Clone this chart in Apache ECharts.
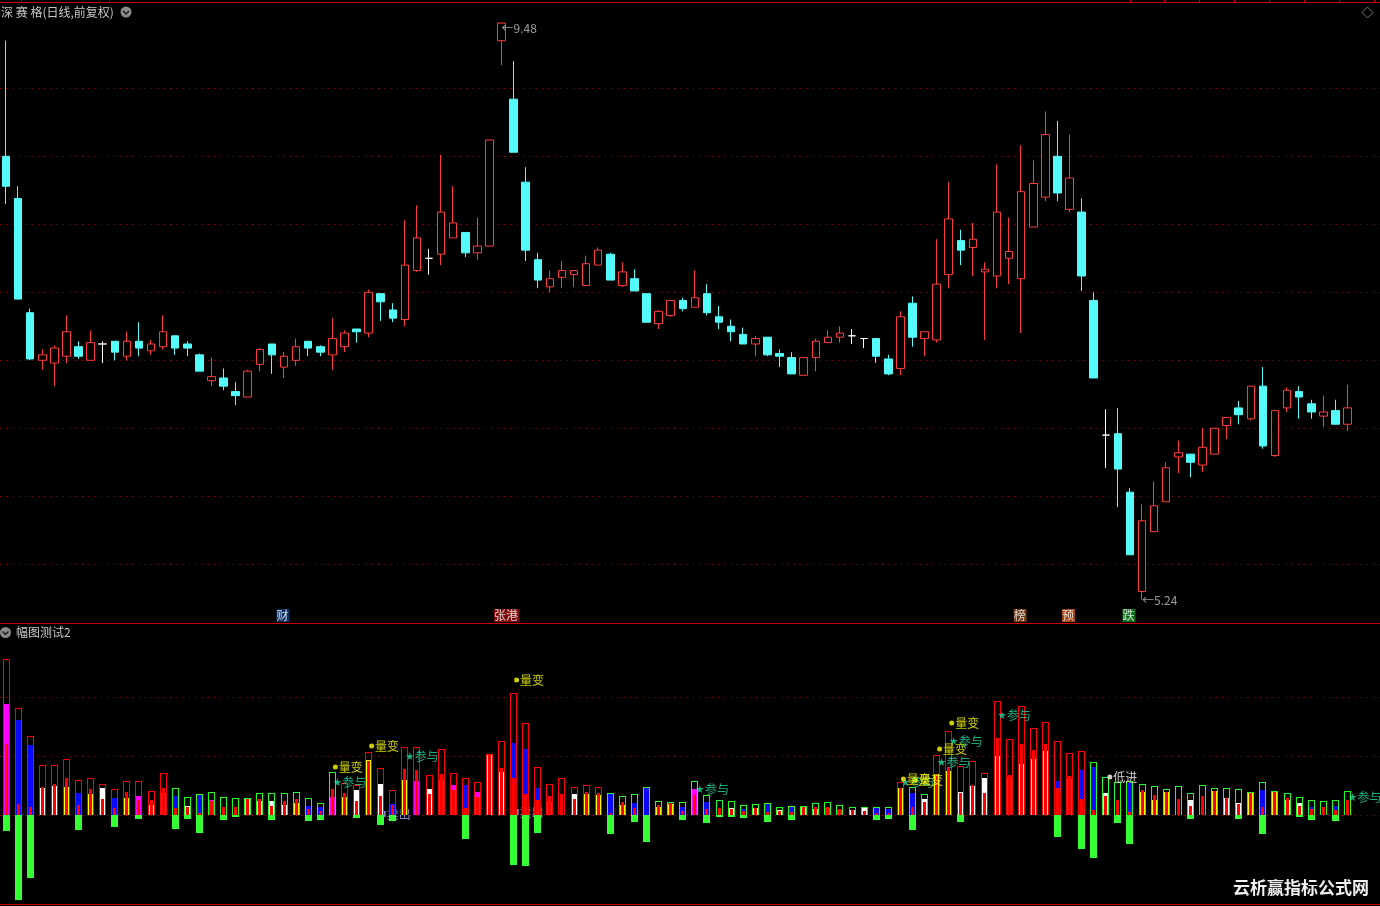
<!DOCTYPE html>
<html>
<head>
<meta charset="utf-8">
<script src="https://cdn.jsdelivr.net/npm/echarts@6.0.0/dist/echarts.min.js"></script>
<style>
html,body{margin:0;padding:0;background:#000;overflow:hidden;}
#c{width:1380px;height:906px;}
</style>
</head>
<body>
<div id="c"></div>
<script>
// ---------------- DATA ----------------
const opens  = [8.50,8.19,7.35,7.00,6.98,7.03,7.10,7.00,7.12,7.14, 7.03,7.14,7.07,7.10,7.18,7.12,7.04,6.85,6.87,6.77,
                6.73,6.97,7.12,6.95,7.00,7.14,7.10,7.04,7.10,7.23, 7.20,7.49,7.37,7.30,7.66,7.75,7.78,7.90,7.94,7.79,
                7.84,9.35,8.92,8.31,7.74,7.54,7.61,7.63,7.55,7.70, 7.78,7.55,7.60,7.49,7.27,7.33,7.44,7.39,7.49,7.32,
                7.25,7.19,7.12,7.17,7.05,7.02,6.89,7.02,7.13,7.17, 7.18,7.16,7.16,7.01,6.94,7.42,7.16,7.15,7.63,7.88,
                7.83,7.65,7.62,7.75,7.60,7.98,8.20,8.50,8.11,8.09, 7.44,6.45,6.46,6.03,5.30,5.74,5.96,6.29,6.31,6.23,
                6.31,6.52,6.65,6.57,6.81,6.30,6.65,6.77,6.68,6.59, 6.63,6.53];
const closes = [8.28,7.45,7.01,7.04,7.09,7.21,7.03,7.13,7.12,7.06, 7.14,7.09,7.12,7.21,7.09,7.09,6.92,6.88,6.81,6.74,
                6.92,7.08,7.04,7.03,7.10,7.09,7.06,7.16,7.20,7.21, 7.50,7.43,7.31,7.70,7.90,7.75,8.09,8.01,7.79,7.84,
                8.62,9.48,8.53,7.81,7.59,7.60,7.66,7.66,7.71,7.81, 7.59,7.65,7.51,7.28,7.36,7.44,7.38,7.46,7.35,7.28,
                7.21,7.12,7.16,7.04,7.03,6.90,7.02,7.14,7.17,7.20, 7.18,7.16,7.03,6.90,7.32,7.17,7.21,7.56,8.04,7.81,
                7.89,7.67,8.09,7.80,8.24,8.30,8.66,8.23,8.34,7.62, 6.87,6.45,6.20,5.57,5.82,5.93,6.21,6.32,6.25,6.36,
                6.50,6.58,6.60,6.81,6.37,6.63,6.78,6.73,6.62,6.62, 6.53,6.65];
const lows   = [8.15,7.45,7.00,6.93,6.81,6.98,7.01,7.00,6.98,7.00, 7.00,7.03,7.04,7.08,7.04,7.03,6.92,6.81,6.78,6.67,
                6.73,6.92,6.90,6.87,6.96,7.03,7.03,6.93,7.06,7.13, 7.17,7.29,7.28,7.25,7.65,7.63,7.70,7.90,7.76,7.74,
                7.84,9.17,8.53,7.73,7.53,7.50,7.53,7.54,7.55,7.70, 7.59,7.54,7.51,7.28,7.23,7.32,7.36,7.39,7.33,7.23,
                7.14,7.12,7.03,7.03,6.95,6.90,6.89,6.92,7.13,7.13, 7.12,7.09,6.98,6.89,6.89,7.10,7.03,7.13,7.53,7.70,
                7.62,7.15,7.53,7.56,7.20,7.98,8.17,8.17,8.09,7.51, 6.87,6.21,5.92,5.57,5.24,5.74,5.96,6.17,6.14,6.18,
                6.31,6.42,6.53,6.56,6.35,6.29,6.62,6.57,6.57,6.51, 6.53,6.48];
const highs  = [9.35,8.28,7.38,7.08,7.11,7.33,7.14,7.22,7.14,7.14, 7.21,7.28,7.15,7.33,7.18,7.14,7.05,7.02,6.94,6.84,
                6.93,7.09,7.12,7.06,7.16,7.14,7.11,7.31,7.22,7.23, 7.52,7.49,7.42,8.03,8.14,7.82,8.51,8.28,7.94,8.05,
                8.62,9.48,9.20,8.42,7.79,7.66,7.73,7.66,7.77,7.83, 7.79,7.72,7.67,7.49,7.37,7.44,7.46,7.66,7.56,7.40,
                7.30,7.24,7.18,7.17,7.08,7.06,7.02,7.16,7.22,7.25, 7.23,7.16,7.16,7.04,7.36,7.47,7.21,7.89,8.31,7.96,
                8.01,7.72,8.44,8.05,8.58,8.47,8.83,8.76,8.66,8.19, 7.50,6.64,6.65,6.06,5.94,6.11,6.25,6.41,6.31,6.50,
                6.50,6.58,6.70,6.81,6.95,6.63,6.80,6.81,6.71,6.74, 6.71,6.82];
const priceLevels = [5.5,6.0,6.5,7.0,7.5,8.0,8.5,9.0];

// lower pane indicator
const outlineTop = [131.9,90.1,66.4,41.8,41.8,46.9,29.1,30.8,25.7,21.5, 28.3,28.3,19.8,35.0,22.3,14.7,17.2,18.9,14.7,13.8,
                    13.8,18.1,18.1,18.1,18.9,13.8,9.6,35.9,26.6,24.9, 52.8,39.3,20.6,57.1,57.1,33.3,55.4,35.0,30.8,27.4,
                    51.4,62.2,102.8,77.4,40.1,25.7,30.8,23.2,24.9,23.2, 18.1,15.5,17.2,23.2,11.3,10.5,10.5,28.3,16.4,12.1,
                    11.3,7.9,8.8,9.6,6.2,7.1,7.3,9.6,10.5,7.9, 6.2,6.5,6.2,6.2,27.4,23.2,17.2,50.3,70.6,41.0,
                    45.2,35.0,96.1,63.8,91.8,73.2,78.3,62.2,52.0,53.7, 44.4,31.6,27.7,28.3,25.7,24.0,21.5,24.0,18.1,24.9,
                    22.3,22.3,21.5,18.9,27.4,19.8,18.1,14.7,12.1,11.3, 12.1,19.8];
const outlineKind = ['R','R','R','R','R','R','R','R','R','R', 'R','R','R','R','G','G','G','G','G','G',
                     'G','G','G','G','G','G','G','G','R','R', 'R','R','R','R','R','R','R','R','R','R',
                     'R','R','R','R','R','R','R','R','R','R', 'G','G','G','G','G','G','G','G','G','G',
                     'G','G','G','G','G','G','G','G','G','G', 'G','G','G','G','R','G','G','R','R','R',
                     'R','R','R','R','R','R','R','R','R','R', 'G','G','G','G','G','G','G','G','G','G',
                     'G','G','G','G','G','G','G','G','G','G', 'G','G'];
const fillTop = [93.8,80.2,58.8,22.9,24.6,23.7,18.4,17.5,22.6,14.1, 14.1,15.8,8.2,18.4,15.8,7.3,16.4,12.4,0,0,
                 13.3,11.6,11.6,8.2,9.9,7.3,6.5,15.0,15.0,20.9, 46.3,26.0,9.0,29.4,28.5,21.8,29.4,25.1,25.1,19.2,
                 51.4,36.2,60.5,55.4,22.6,10.7,0,17.5,17.5,16.7, 18.1,8.2,9.9,23.2,6.5,9.0,6.5,21.8,10.7,0,
                 5.6,4.8,5.6,9.0,4.0,6.5,7.3,4.8,5.6,4.0, 4.0,6.5,5.4,4.8,22.3,18.1,13.3,34.5,37.0,19.2,
                 24.3,31.1,49.7,31.9,42.9,47.2,54.0,28.5,30.2,37.9, 40.4,18.4,0,26.6,19.2,12.4,19.2,0,12.4,0,
                 19.8,14.1,9.9,18.9,20.9,18.9,12.4,9.9,6.5,0, 7.3,0];
const fillKind = ['M','B','B','W','W','Y','B','Y','W','B', 'Y','M','Y','M','B','W','B','M','','',
                  'Y','Y','W','W','Y','B','B','M','Y','W', 'Y','W','B','Y','M','W','M','M','B','M',
                  'Y','W','B','B','B','M','','W','Y','Y', 'B','Y','B','B','Y','Y','B','M','B','',
                  'W','B','W','B','W','B','Y','Y','M','M', 'W','W','B','B','Y','B','W','Y','Y','W',
                  'W','W','Y','M','Y','Y','Y','B','M','B', 'B','W','','B','Y','Y','Y','','W','',
                  'Y','W','W','Y','B','Y','Y','W','B','', 'B',''];
const redTop = [59.9,9.0,6.5,23.4,26.0,31.1,8.2,21.8,13.3,5.6, 19.2,12.4,12.4,22.6,5.6,6.5,1.4,11.6,6.5,6.5,
                13.3,13.3,7.3,11.6,13.3,4.8,3.1,21.8,18.4,11.6, 45.5,15.8,8.2,38.7,37.9,17.5,34.5,20.9,5.6,15.0,
                51.4,39.6,31.1,17.5,12.4,15.8,17.5,13.3,19.2,18.4, 1.4,10.7,5.6,0,8.2,9.9,3.1,16.7,4.8,5.6,
                4.8,3.1,5.6,2.3,3.1,2.3,7.3,6.5,6.5,4.8, 4.0,3.1,1.4,1.4,22.3,6.5,10.7,34.5,40.7,18.4,
                25.1,18.4,65.0,33.6,59.9,54.8,59.9,22.6,32.8,13.3, 4.0,15.8,12.4,2.3,20.9,16.7,19.2,13.3,7.3,15.8,
                19.8,14.1,9.0,18.1,6.5,18.9,14.1,7.3,4.8,6.5, 4.0,12.4];
const negBottom = [-13.6,-72.3,-53.4,0,0,0,-13.0,0,0,-10.5, 0,-3.7,0,0,-12.1,-3.7,-15.5,0,-4.5,-2.0,
                   0,0,-4.5,0,0,-5.4,-4.5,0,0,-2.8, 0,-8.8,-5.4,0,0,0,0,0,-20.6,0,
                   0,0,-42.4,-43.2,-15.5,0,0,0,0,0, -16.4,0,-6.2,-23.2,0,0,-4.5,0,-7.1,-2.0,
                   -2.0,-2.8,0,-6.2,0,-4.5,0,0,0,0, 0,0,-4.5,-3.7,0,-13.0,0,0,0,-6.2,
                   0,0,0,0,0,0,0,-18.9,0,-29.1, -36.7,0,-7.1,-24.9,0,0,0,0,-3.7,0,
                   0,0,-3.7,0,-16.4,0,0,-2.0,-4.5,0, -5.4,0];
const oscLevels = [0,50,100];

// signal labels in the lower pane
const sigIdx  = [27,27,30,33,42,57,74,74,75,77,77,78,78,82,91,111,31,42];
const sigVal  = [40.4,27.7,58.2,49.7,114.2,21.8,27.7,30.3,29.4,55.7,44.7,77.7,62.5,84.5,32.0,15.0,0.6,2.3];
const sigText = ['量变','参与','量变','参与','量变','参与','参与','量变','量变','量变','参与','量变','参与','参与','低进','参与','卖出','卖出'];
const sigKind = ['Q','C','Q','C','Q','C','C','Q','Q','Q','C','Q','C','C','L','C','S','S'];

// event tags at bottom of price pane
const tagIdx  = [23,41,84,88,93];
const tagText = ['财','张港','榜','预','跌'];
const tagKind = ['blue','red','brown','orange','green'];

const categories = opens.map((_, i) => 'D' + (i + 1));

// ---------------- STYLE ----------------
const UP = '#ff3c3c', DOWN = '#54fcfc';
const OUTLINE_COL = {R:'#ff0000', G:'#1eff1e'};
const FILL_COL = {M:'#ff00ff', B:'#0a0aff', W:'#ffffff', Y:'#ffff00'};
const NEG_COL = '#33ff33';
const TAG_BG = {blue:'#0f3f7c', red:'#9c0c0c', brown:'#85441a', orange:'#c4541c', green:'#0f8a1c'};
const STAR = 'path://M50,0 L61,35 L98,35 L68,57 L79,91 L50,70 L21,91 L32,57 L2,35 L39,35 Z';
const SIG = {
  Q:{color:'#ffff00', symbol:'circle', size:5, off:[3,0]},
  C:{color:'#22dca4', symbol:STAR, size:8, off:[5,0]},
  L:{color:'#ffffff', symbol:'circle', size:5, off:[4,0]},
  S:{color:'#a8a8ff', symbol:'rect', size:[4,6], off:[3,0]}
};
const FONT = '"Noto Sans CJK SC", "Noto Sans", sans-serif';

// ---------------- SERIES DATA ----------------
const candleData = opens.map((o, i) => [o, closes[i], lows[i], highs[i]]);
const oscData = opens.map((_, i) => ({
  value:[i, outlineTop[i], fillTop[i], redTop[i], negBottom[i]],
  itemStyle:{color:OUTLINE_COL[outlineKind[i]] || '#ff0000'}
}));

function box(x, y, w, h, color) {
  return {type:'rect', shape:{x:x, y:y, width:w, height:h}, style:{fill:color}};
}
function renderOsc(params, api) {
  const i = params.dataIndex;
  const p0 = api.coord([i, 0]);
  const left = Math.round(p0[0] - 3.5);
  const y0 = Math.round(p0[1]);
  const kids = [];
  const b = api.value(2);
  const fk = fillKind[i];
  if (fk && b > 0) {
    const yb = Math.round(api.coord([i, b])[1]);
    kids.push(box(left + 1, yb, 5, y0 - yb, FILL_COL[fk] || '#ffffff'));
  }
  const c = api.value(3);
  if (c > 0) {
    const yc = Math.round(api.coord([i, c])[1]);
    kids.push(box(left + 2, yc, 3, y0 - yc, '#ff0000'));
  }
  const a = api.value(1);
  if (a > 0) {
    const ya = Math.round(api.coord([i, a])[1]);
    const oc = api.visual('color');
    kids.push(box(left, ya, 7, 1, oc));
    kids.push(box(left, ya, 1, y0 - ya, oc));
    kids.push(box(left + 6, ya, 1, y0 - ya, oc));
  }
  const d = api.value(4);
  if (d < 0) {
    const yd = Math.round(api.coord([i, d])[1]);
    kids.push(box(left, y0, 7, yd - y0, NEG_COL));
  }
  return {type:'group', children:kids};
}

const sigData = [], sellData = [];
sigIdx.forEach((idx, k) => {
  const s = SIG[sigKind[k]];
  const item = {
    value:[idx, sigVal[k]],
    symbol:s.symbol, symbolSize:s.size, symbolOffset:s.off,
    itemStyle:{color:s.color},
    label:{show:true, position:'right', distance:1, formatter:sigText[k], color:s.color,
           fontSize:12, fontFamily:FONT}
  };
  (sigKind[k] === 'S' ? sellData : sigData).push(item);
});

const tagData = tagIdx.map((idx, k) => ({
  value:[idx, 5.1235],
  label:{show:true, position:'right', distance:0, offset:[-7.5, 0], formatter:tagText[k],
         color:'#ffffff', backgroundColor:TAG_BG[tagKind[k]], fontSize:12, lineHeight:13,
         padding:[0, 1, 0, 0], fontFamily:FONT}
}));

const extremeData = [
  {value:[41, highs[41]], label:{formatter:'←' + highs[41].toFixed(2), offset:[0, 5]}},
  {value:[94, lows[94]], label:{formatter:'←' + lows[94].toFixed(2), offset:[0, 1]}}
];

// ---------------- CHART ----------------
const chart = echarts.init(document.getElementById('c'), null, {renderer:'canvas', width:1380, height:906});
const GL = -2.55, GW = 1356.1;
const option = {
  backgroundColor:'#000000',
  animation:false,
  grid:[
    {left:GL, width:GW, top:2, height:621},
    {left:GL, width:GW, top:623, height:281}
  ],
  xAxis:[
    {type:'category', data:categories, gridIndex:0, boundaryGap:true, show:false},
    {type:'category', data:categories, gridIndex:1, boundaryGap:true, show:false}
  ],
  yAxis:[
    {type:'value', gridIndex:0, min:5.0684, max:9.6346, show:false, splitLine:{show:false}},
    {type:'value', gridIndex:1, min:-75.68, max:162.47, show:false, splitLine:{show:false}}
  ],
  series:[
    {
      type:'candlestick', xAxisIndex:0, yAxisIndex:0, data:candleData, barWidth:8, z:3,
      itemStyle:{color:'#000000', color0:DOWN, borderColor:UP, borderColor0:DOWN,
                 borderColorDoji:'#ffffff', borderWidth:1}
    },
    {
      type:'scatter', xAxisIndex:0, yAxisIndex:0, data:tagData, symbolSize:0, z:4, silent:true
    },
    {
      type:'scatter', xAxisIndex:0, yAxisIndex:0, data:extremeData, symbolSize:0, z:4, silent:true,
      label:{show:true, position:'right', distance:0, color:'#c0c0c0', fontSize:12, fontFamily:FONT}
    },
    {
      type:'scatter', xAxisIndex:1, yAxisIndex:1, data:sellData, z:1, silent:true
    },
    {
      type:'custom', xAxisIndex:1, yAxisIndex:1, data:oscData, renderItem:renderOsc, z:2, silent:true,
      itemStyle:{color:'#ff0000'},
      encode:{x:0, y:[1,2,3,4]}
    },
    {
      type:'scatter', xAxisIndex:1, yAxisIndex:1, data:sigData, z:5, silent:true
    }
  ]
};
chart.setOption(option);

// dotted reference lines + frame, placed with the chart's own scales
const gfx = [];
function dotted(y) {
  const yy = Math.round(y) + 0.5;
  gfx.push({type:'line', z:0, silent:true, shape:{x1:0, y1:yy, x2:1380, y2:yy},
            style:{stroke:'#b40000', lineWidth:1, lineDash:[1, 5.3]}});
}
priceLevels.forEach(v => dotted(chart.convertToPixel({yAxisIndex:0}, v)));
oscLevels.forEach(v => dotted(chart.convertToPixel({yAxisIndex:1}, v)));

[2.5, 623.5, 904.5].forEach(y => gfx.push({type:'line', z:1, silent:true,
  shape:{x1:0, y1:y, x2:1380, y2:y}, style:{stroke:'#c80000', lineWidth:1}}));
[21, 1130, 1164, 1199, 1234, 1269, 1304, 1339, 1374].forEach(x => gfx.push({type:'line', z:1, silent:true,
  shape:{x1:x + 0.5, y1:0, x2:x + 0.5, y2:3}, style:{stroke:'#c80000', lineWidth:1}}));

// titles
gfx.push({type:'text', z:10, silent:true, x:1, y:12,
  style:{text:'深 赛 格(日线,前复权)', fill:'#c8c8c8', font:'12px ' + FONT, textVerticalAlign:'middle'}});
gfx.push({type:'circle', z:10, silent:true, shape:{cx:126, cy:12, r:5.5}, style:{fill:'#8a8a8a'}});
gfx.push({type:'polyline', z:11, silent:true, shape:{points:[[123,11],[126,14],[129,11]]},
  style:{stroke:'#1a1a1a', lineWidth:1.5, fill:'none'}});
gfx.push({type:'polygon', z:10, silent:true, shape:{points:[[1367.5,7],[1373,12.5],[1367.5,18],[1362,12.5]]},
  style:{stroke:'#7a7a7a', lineWidth:1, fill:'none'}});
gfx.push({type:'circle', z:10, silent:true, shape:{cx:5.5, cy:632.5, r:5.5}, style:{fill:'#8a8a8a'}});
gfx.push({type:'polyline', z:11, silent:true, shape:{points:[[2.5,631.5],[5.5,634.5],[8.5,631.5]]},
  style:{stroke:'#1a1a1a', lineWidth:1.5, fill:'none'}});
gfx.push({type:'text', z:10, silent:true, x:16, y:632.5,
  style:{text:'幅图测试2', fill:'#c8c8c8', font:'12px ' + FONT, textVerticalAlign:'middle'}});
// watermark
gfx.push({type:'text', z:20, silent:true, x:1233, y:888,
  style:{text:'云析赢指标公式网', fill:'#f0f0f0', font:'bold 17px ' + FONT, textVerticalAlign:'middle',
         textShadowColor:'#777', textShadowBlur:0, textShadowOffsetX:1, textShadowOffsetY:1}});

chart.setOption({graphic:{elements:gfx}});
</script>
</body>
</html>
